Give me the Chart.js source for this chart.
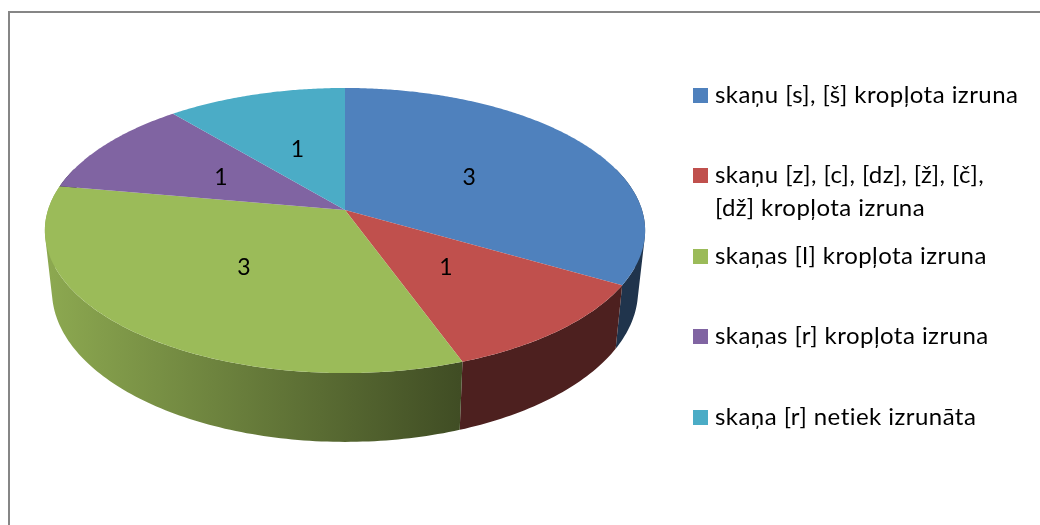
<!DOCTYPE html>
<html><head><meta charset="utf-8">
<style>html,body{margin:0;padding:0;background:#fff}canvas{display:block}</style>
<script src="https://cdn.jsdelivr.net/npm/chart.js@4"></script>
</head><body><canvas id="c" width="1040" height="525"></canvas>
<script>
const categories = [
  'skaņu [s], [š] kropļota izruna',
  ['skaņu [z], [c], [dz], [ž], [č],', '[dž] kropļota izruna'],
  'skaņas [l] kropļota izruna',
  'skaņas [r] kropļota izruna',
  'skaņa [r] netiek izrunāta'
];
const values = [3, 1, 3, 1, 1];
const colors = ['#4F81BD', '#C0504D', '#9BBB59', '#8064A2', '#4BACC6'];
const legendTextY = [95, 175, 256, 336, 417];

const LABEL_FONT = '23px Lato, Carlito, sans-serif';
const LEGEND_FONT = '24px Lato, Carlito, sans-serif';
const top3d = {cx: 345, cy: 210, a: 297, b: 139.6, p: 0.144};
const bot3d = {cx: 345, cy: 269, a: 290, b: 148, p: 0.144};

function project(g, theta, r) {
  const u = Math.sin(theta) * r, v = -Math.cos(theta) * r, w = 1 - g.p * v;
  return [g.cx + g.a * u / w, g.cy + g.b * v / w];
}
function rgb(hex, f) {
  const n = parseInt(hex.slice(1), 16);
  return `rgb(${Math.round((n >> 16) * f)},${Math.round(((n >> 8) & 255) * f)},${Math.round((n & 255) * f)})`;
}
function quad(ctx, pts) {
  let area = 0;
  pts.forEach((p, i) => { const q = pts[(i + 1) % 4]; area += p[0] * q[1] - q[0] * p[1]; });
  const ordered = area < 0 ? pts.slice().reverse() : pts;
  ctx.moveTo(ordered[0][0], ordered[0][1]);
  for (let i = 1; i < 4; i++) ctx.lineTo(ordered[i][0], ordered[i][1]);
  ctx.closePath();
}
const pie3d = {
  id: 'pie3d',
  beforeDatasetsDraw(chart) {
    const ctx = chart.ctx, arcs = chart.getDatasetMeta(0).data;
    const step = Math.PI / 180;
    // side walls
    arcs.forEach((arc, i) => {
      const s = arc.startAngle + Math.PI / 2, e = arc.endAngle + Math.PI / 2;
      const g = ctx.createLinearGradient(50, 0, 460, 0);
      g.addColorStop(0, rgb(colors[i], 0.9));
      g.addColorStop(1, rgb(colors[i], 0.41));
      ctx.fillStyle = i === 2 ? g : rgb(colors[i], 0.4);
      ctx.beginPath();
      for (let t = s; t < e - 1e-6; t += step) {
        const t2 = Math.min(t + step, e);
        if (-Math.cos(t) < -0.3 && -Math.cos(t2) < -0.3) continue;
        quad(ctx, [project(top3d, t, 1), project(top3d, t2, 1), project(bot3d, t2, 1), project(bot3d, t, 1)]);
      }
      ctx.fill();
    });
    // top faces
    arcs.forEach((arc, i) => {
      const s = arc.startAngle + Math.PI / 2, e = arc.endAngle + Math.PI / 2;
      ctx.fillStyle = colors[i];
      ctx.beginPath();
      ctx.moveTo(top3d.cx, top3d.cy);
      for (let t = s; t < e; t += step / 2) { const P = project(top3d, t, 1); ctx.lineTo(P[0], P[1]); }
      const P = project(top3d, e, 1); ctx.lineTo(P[0], P[1]);
      ctx.closePath();
      ctx.fill();
    });
    // value labels
    ctx.fillStyle = '#000';
    ctx.font = LABEL_FONT;
    ctx.textAlign = 'center';
    ctx.textBaseline = 'middle';
    arcs.forEach((arc, i) => {
      const m = (arc.startAngle + arc.endAngle) / 2 + Math.PI / 2;
      const P = project(top3d, m, 0.5);
      ctx.fillText(String(values[i]), P[0], P[1] + 1);
    });
    return false;
  },
  afterDraw(chart) {
    const ctx = chart.ctx;
    // frame
    ctx.strokeStyle = '#868686';
    ctx.lineWidth = 2;
    ctx.beginPath();
    ctx.moveTo(9, 525); ctx.lineTo(9, 12); ctx.lineTo(1040, 12);
    ctx.stroke();
    // legend
    ctx.font = LEGEND_FONT;
    ctx.letterSpacing = '0.45px';
    ctx.textAlign = 'left';
    ctx.textBaseline = 'middle';
    categories.forEach((lab, i) => {
      const y = legendTextY[i];
      ctx.fillStyle = colors[i];
      ctx.fillRect(693, y - 7, 15, 15);
      ctx.fillStyle = '#000';
      (Array.isArray(lab) ? lab : [lab]).forEach((line, k) => ctx.fillText(line, 715, y + k * 33));
    });
    ctx.letterSpacing = '0px';
  }
};
new Chart(document.getElementById('c'), {
  type: 'pie',
  data: {labels: categories, datasets: [{data: values, backgroundColor: colors, borderWidth: 0}]},
  options: {responsive: false, animation: false,
    plugins: {legend: {display: false}, tooltip: {enabled: false}}},
  plugins: [pie3d]
});
</script></body></html>
